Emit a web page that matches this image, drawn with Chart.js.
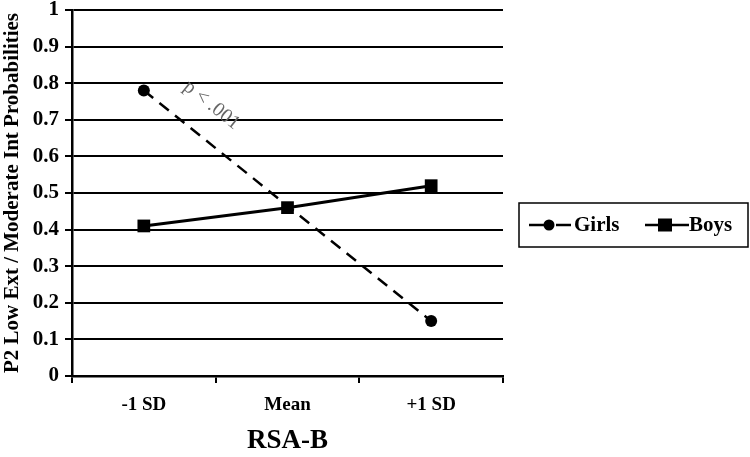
<!DOCTYPE html>
<html>
<head>
<meta charset="utf-8">
<script src="https://cdn.jsdelivr.net/npm/chart.js@4"></script>
<style>
  html, body { margin: 0; padding: 0; background: #fff; }
  #wrap { width: 750px; height: 457px; position: relative; }
</style>
</head>
<body>
<div id="wrap"><canvas id="chart" width="750" height="457"></canvas></div>
<script>
const categories = ["-1 SD", "Mean", "+1 SD"];
const girls = [0.78, 0.465, 0.15];
const boys = [0.41, 0.46, 0.52];
const yTicks = [0, 0.1, 0.2, 0.3, 0.4, 0.5, 0.6, 0.7, 0.8, 0.9, 1];
const note = "p < .001";

const SERIF = "'Liberation Serif', 'DejaVu Serif', serif";

// p < .001 written along the girls line
const notePlugin = {
  id: "note",
  afterDatasetsDraw(chart) {
    const ctx = chart.ctx;
    const x = chart.scales.x, y = chart.scales.y;
    const x0 = x.getPixelForValue(0), y0 = y.getPixelForValue(girls[0]);
    const x1 = x.getPixelForValue(2), y1 = y.getPixelForValue(girls[2]);
    const ang = Math.atan2(y1 - y0, x1 - x0);
    ctx.save();
    ctx.translate(x0, y0);
    ctx.rotate(ang);
    ctx.fillStyle = "#666";
    ctx.font = "20px " + SERIF;
    ctx.textAlign = "center";
    ctx.textBaseline = "middle";
    ctx.fillText(note, 62, -31);
    ctx.restore();
  }
};

// boxed legend to the right
const legendPlugin = {
  id: "boxLegend",
  afterDraw(chart) {
    const ctx = chart.ctx;
    const bx = 519, by = 203, bw = 229, bh = 44;
    ctx.save();
    ctx.strokeStyle = "#000";
    ctx.lineWidth = 1.5;
    ctx.strokeRect(bx, by, bw, bh);
    ctx.font = "bold 21px " + SERIF;
    ctx.textBaseline = "middle";
    ctx.fillStyle = "#000";
    const cy = by + bh / 2;
    ctx.lineWidth = 2.5;
    // girls
    ctx.beginPath(); ctx.moveTo(529, cy); ctx.lineTo(549, cy); ctx.stroke();
    ctx.beginPath(); ctx.moveTo(556, cy); ctx.lineTo(571, cy); ctx.stroke();
    ctx.beginPath(); ctx.arc(549, cy, 5.5, 0, Math.PI * 2); ctx.fill();
    ctx.fillText("Girls", 574, cy + 1);
    // boys
    ctx.beginPath(); ctx.moveTo(645, cy); ctx.lineTo(689, cy); ctx.stroke();
    ctx.fillRect(658, cy - 6.5, 14, 13);
    ctx.fillText("Boys", 689, cy + 1);
    ctx.restore();
  }
};

new Chart(document.getElementById("chart"), {
  type: "line",
  data: {
    labels: categories,
    datasets: [
      {
        label: "Girls",
        data: girls,
        borderColor: "#000",
        backgroundColor: "#000",
        borderWidth: 2.5,
        borderDash: [12, 8],
        pointStyle: "circle",
        pointRadius: [6, 0, 6],
        pointBorderWidth: 0,
        fill: false,
        tension: 0
      },
      {
        label: "Boys",
        data: boys,
        borderColor: "#000",
        backgroundColor: "#000",
        borderWidth: 3,
        pointStyle: "rect",
        pointRadius: 9,
        pointBorderWidth: 0,
        fill: false,
        tension: 0
      }
    ]
  },
  options: {
    responsive: false,
    animation: false,
    layout: { padding: { top: 10, right: 247, left: 0, bottom: 0 } },
    plugins: { legend: { display: false }, tooltip: { enabled: false } },
    scales: {
      x: {
        offset: true,
        grid: { drawOnChartArea: false, drawTicks: true, tickLength: 7, offset: true, color: "#000", lineWidth: 2 },
        border: { display: true, color: "#000", width: 2.5 },
        ticks: { color: "#000", font: { family: SERIF, size: 19, weight: "bold" }, padding: 11 },
        title: { display: true, text: "RSA-B", color: "#000", font: { family: SERIF, size: 27, weight: "bold" }, padding: { top: 4, bottom: 0 } },
        afterFit(s) { s.height = 81; }
      },
      y: {
        min: 0,
        max: 1,
        afterBuildTicks(s) { s.ticks = yTicks.map(v => ({ value: v })); },
        grid: { color: "#000", lineWidth: 2, drawTicks: true, tickLength: 7 },
        border: { display: true, color: "#000", width: 2.5 },
        ticks: { color: "#000", font: { family: SERIF, size: 21, weight: "bold" }, padding: 6, callback: v => String(v) },
        title: { display: true, text: "P2 Low Ext / Moderate Int Probabilities", color: "#000", font: { family: SERIF, size: 21, weight: "bold" }, padding: 0 },
        afterFit(s) { s.width = 72; s.paddingTop = 0; s.paddingBottom = 0; }
      }
    }
  },
  plugins: [notePlugin, legendPlugin]
});
</script>
</body>
</html>
